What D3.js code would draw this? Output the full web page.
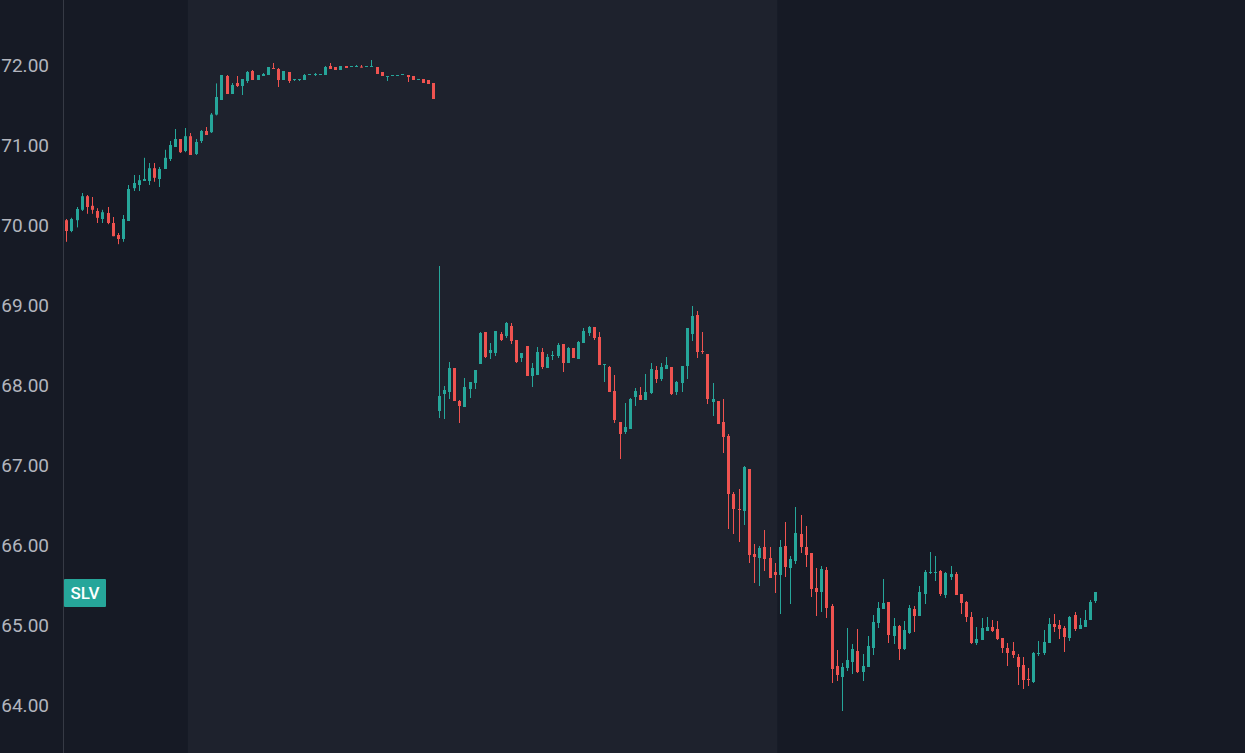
<!DOCTYPE html>
<html>
<head>
<meta charset="utf-8">
<script src="https://cdn.jsdelivr.net/npm/d3@7"></script>
<style>
  html, body { margin: 0; padding: 0; background: #161a25; }
  svg { display: block; }
</style>
</head>
<body>
<svg id="chart" width="1245" height="753"></svg>
<script>
// ---- Data (SLV, intraday candles) ----
const opens = [
70.06,69.925,70.06,70.19,70.36,70.24,70.175,70.075,70.15,70.025,69.875,69.825,70.05,70.46,70.50,70.55,70.55,70.71,70.575,70.70,
70.825,70.975,71.075,70.925,71.11,70.8875,71.05,71.175,71.16,71.38,71.5625,71.8625,71.6375,71.775,71.7375,71.80,71.925,71.8125,71.8625,71.875,
71.9625,71.95,71.8125,71.9125,71.8125,71.8125,71.8125,71.875,71.875,71.875,71.875,71.9875,71.975,71.9375,71.9875,71.975,71.975,71.98,71.975,71.975,
71.975,71.9125,71.85,71.8625,71.8625,71.875,71.875,71.8625,71.8125,71.825,71.8125,71.775,67.675,67.8875,67.9125,68.2125,67.80,67.725,67.95,68.025,
68.2625,68.6625,68.40,68.40,68.6375,68.6125,68.7375,68.5625,68.3375,68.4875,68.1125,68.125,68.4125,68.2125,68.3625,68.3625,68.5125,68.275,68.4625,68.325,
68.525,68.65,68.725,68.60,68.25,68.225,67.925,67.5375,67.4125,67.45,67.85,67.875,67.8125,67.90,68.1875,68.075,68.20,68.225,67.9125,68.025,
68.2375,68.6375,68.875,68.425,68.3875,67.7875,67.80,67.5375,67.3625,66.6375,66.45,66.425,66.95,65.8875,65.8375,65.975,65.8375,65.6625,65.625,65.9875,
65.7125,65.80,66.1375,65.975,65.90,65.4625,65.4125,65.6875,65.2375,64.4875,64.35,64.4625,64.5375,64.675,64.4125,64.475,64.7125,65.025,65.20,65.2875,
64.8625,64.9875,64.70,64.90,65.20,65.1125,65.3875,65.65,65.65,65.675,65.375,65.60,65.6375,65.3875,65.2875,65.10,64.775,64.8125,64.925,64.975,
64.95,64.8375,64.7125,64.675,64.60,64.50,64.325,64.2875,64.6375,64.65,64.775,65.0125,65.0,64.9625,64.8375,65.125,64.95,64.975,65.0625,65.30
];
const highs = [
70.075,70.09,70.225,70.40,70.375,70.35,70.21,70.19,70.225,70.10,69.90,70.125,70.50,70.625,70.625,70.84,70.775,70.775,70.725,70.94,
71.05,71.20,71.075,71.2125,71.15,71.075,71.1875,71.225,71.40,71.77,71.875,71.875,71.775,71.8625,71.825,71.925,71.9375,71.875,71.90,71.975,
72.025,71.9625,71.925,71.9125,71.825,71.825,71.8875,71.8875,71.90,71.8875,71.9875,72.025,71.975,71.9875,71.9875,71.9875,72.0,72.0,71.9875,72.0625,
71.975,71.9125,71.8625,71.875,71.875,71.8875,71.875,71.8625,71.825,71.825,71.8125,71.775,69.4875,67.9875,68.2875,68.2125,67.8125,68.0875,68.0375,68.1875,
68.6625,68.6625,68.525,68.675,68.6625,68.7875,68.775,68.5625,68.40,68.4875,68.275,68.475,68.4625,68.3875,68.425,68.525,68.5125,68.475,68.4625,68.55,
68.7125,68.7375,68.725,68.6625,68.2625,68.2375,68.125,67.5375,67.775,67.8375,67.9625,67.975,68.1375,68.275,68.2375,68.275,68.35,68.225,68.05,68.2375,
68.7125,68.9875,68.925,68.6625,68.3875,68.025,67.80,67.825,67.3875,66.6625,66.70,66.9875,66.95,66.0125,65.9875,66.1875,65.975,65.775,66.0625,66.2875,
65.8625,66.475,66.375,66.2375,65.90,65.7125,65.7375,65.725,65.2625,64.6875,64.525,64.9625,64.7625,64.95,64.6375,64.8625,65.125,65.2875,65.575,65.2875,
65.0875,65.0,65.05,65.25,65.2375,65.4875,65.6875,65.9125,65.8625,65.6875,65.6625,65.7375,65.6625,65.3875,65.30,65.1625,64.975,65.0875,65.10,65.0625,
65.05,64.8375,64.775,64.7875,64.6375,64.60,64.4625,64.6625,64.80,64.9375,65.0875,65.1375,65.0625,64.9875,65.1125,65.1625,65.0875,65.1875,65.3125,65.4125
];
const lows = [
69.79,69.91,69.97,70.175,70.14,70.14,70.025,70.025,70.01,69.86,69.76,69.79,70.05,70.425,70.425,70.55,70.50,70.54,70.475,70.70,
70.80,70.975,70.90,70.91,70.875,70.875,71.025,71.125,71.15,71.37,71.5625,71.6375,71.6375,71.725,71.625,71.775,71.8125,71.8125,71.8625,71.875,
71.95,71.725,71.8125,71.775,71.80,71.80,71.8125,71.875,71.8625,71.875,71.875,71.95,71.9375,71.9375,71.9625,71.975,71.975,71.97,71.975,71.975,
71.8875,71.8625,71.80,71.8625,71.8625,71.875,71.7875,71.8125,71.8125,71.775,71.7625,71.575,67.5875,67.575,67.825,67.80,67.525,67.725,67.8375,67.95,
68.2625,68.3375,68.325,68.3625,68.55,68.5875,68.5125,68.275,68.2875,68.1125,67.975,68.125,68.20,68.2125,68.3125,68.3375,68.1625,68.275,68.3375,68.325,
68.525,68.6125,68.5625,68.25,68.0375,67.9125,67.525,67.075,67.3875,67.45,67.7375,67.8125,67.8125,67.8875,68.025,68.05,68.20,67.875,67.875,67.9125,
68.075,68.55,68.3375,68.3875,67.7625,67.6125,67.5125,67.15,66.20,66.1375,66.0375,66.25,65.775,65.525,65.4875,65.675,65.5875,65.40,65.1375,65.60,
65.2625,65.7625,65.90,65.725,65.35,65.1125,65.1625,65.0875,64.275,64.30,63.925,64.425,64.3875,64.40,64.30,64.475,64.625,64.9625,65.20,64.775,
64.7625,64.5625,64.6875,64.8875,64.9125,65.1125,65.2625,65.6375,65.55,65.3625,65.3375,65.5625,65.375,65.1375,65.0375,64.7625,64.75,64.8125,64.925,64.9125,
64.8125,64.65,64.4875,64.5875,64.25,64.20,64.2375,64.275,64.6125,64.625,64.775,64.9125,64.825,64.6625,64.80,64.925,64.95,64.975,65.0625,65.275
];
const closes = [
69.925,70.075,70.20,70.36,70.225,70.19,70.09,70.16,70.025,69.86,69.825,70.075,70.45,70.525,70.56,70.575,70.71,70.59,70.70,70.84,
71.00,71.075,70.91,71.11,70.875,71.0375,71.175,71.125,71.38,71.60,71.875,71.6375,71.75,71.7375,71.825,71.9125,71.8125,71.875,71.8875,71.975,
71.95,71.8125,71.925,71.80,71.825,71.825,71.875,71.8875,71.8875,71.8875,71.975,71.95,71.9375,71.9875,71.9625,71.9875,71.9875,71.97,71.9875,71.9875,
71.8875,71.8625,71.8625,71.875,71.875,71.8875,71.85,71.8125,71.825,71.775,71.7625,71.575,67.8625,67.9375,68.2125,67.80,67.7375,67.975,68.0375,68.1875,
68.65,68.35,68.4375,68.675,68.5625,68.775,68.55,68.2875,68.40,68.1125,68.2125,68.4125,68.225,68.35,68.375,68.50,68.275,68.4625,68.3375,68.5375,
68.675,68.725,68.5875,68.25,68.2625,67.9125,67.5625,67.3875,67.475,67.825,67.925,67.8125,67.9125,68.20,68.075,68.225,68.25,67.8875,68.0375,68.2375,
68.7125,68.8625,68.4125,68.4125,67.825,67.825,67.5125,67.35,66.6375,66.45,66.4375,66.975,65.875,65.85,65.9625,65.825,65.5875,65.625,65.975,65.725,
65.825,66.15,65.975,65.875,65.45,65.4125,65.70,65.2125,64.45,64.375,64.475,64.5625,64.70,64.4125,64.4875,64.7375,65.0375,65.2125,65.275,64.875,
64.9875,64.70,64.9375,65.2125,65.1125,65.4125,65.6625,65.6625,65.6625,65.3875,65.65,65.6375,65.375,65.275,65.10,64.775,64.825,64.9625,64.975,64.925,
64.825,64.7125,64.65,64.625,64.475,64.3125,64.3125,64.65,64.65,64.7875,65.0125,64.975,64.95,64.85,65.10,64.95,65.0,65.0625,65.2875,65.4125
];
// Regular-session band (candle index range, inclusive)
const sessionStart = [24];
const sessionEnd = [137];
const yTicks = [64, 65, 66, 67, 68, 69, 70, 71, 72];
const symbol = ["SLV"];

// ---- Drawing ----
const W = 1245, H = 753;
const svg = d3.select("#chart");
const n = opens.length;
const candles = d3.range(n).map(i => ({ i, o: opens[i], h: highs[i], l: lows[i], c: closes[i] }));

const x = d3.scaleLinear().domain([0, n - 1]).range([66.3, 1095.3]);
const y = d3.scaleLinear().domain([64, 72]).range([705, 65]);
const step = x(1) - x(0);

const colUp = "#26a69a", colDown = "#ef5350";

// backgrounds
svg.append("rect").attr("x", 0).attr("y", 0).attr("width", W).attr("height", H).attr("fill", "#161a25");
svg.append("rect")
  .attr("x", x(sessionStart[0] - 0.5)).attr("y", 0)
  .attr("width", x(sessionEnd[0] + 0.5) - x(sessionStart[0] - 0.5)).attr("height", H)
  .attr("fill", "#1e222d");

// axis line
svg.append("line").attr("x1", 63.5).attr("x2", 63.5).attr("y1", 0).attr("y2", H)
  .attr("stroke", "#363a45").attr("stroke-width", 1);

// y axis labels via d3 axis
const yAxis = d3.axisLeft(y).tickValues(yTicks).tickFormat(d3.format(".2f")).tickSize(0).tickPadding(0);
const gAxis = svg.append("g").attr("transform", "translate(49,0)").call(yAxis);
gAxis.select(".domain").remove();
gAxis.selectAll("text")
  .attr("fill", "#b2b5be")
  .style("font-family", "Roboto, 'Noto Sans', sans-serif")
  .style("font-size", "19px");

// candles
const g = svg.append("g");
const cg = g.selectAll("g.c").data(candles).join("g").attr("class", "c");
cg.append("line")
  .attr("x1", d => Math.round(x(d.i)) + 0.5)
  .attr("x2", d => Math.round(x(d.i)) + 0.5)
  .attr("y1", d => y(d.h))
  .attr("y2", d => y(d.l))
  .attr("stroke", d => d.c >= d.o ? colUp : colDown)
  .attr("stroke-width", 1);
cg.append("rect")
  .attr("x", d => Math.round(x(d.i)) - 1)
  .attr("width", 3)
  .attr("y", d => Math.min(y(d.o), y(d.c)))
  .attr("height", d => Math.max(1, Math.abs(y(d.o) - y(d.c))))
  .attr("fill", d => d.c >= d.o ? colUp : colDown);

// symbol label
const lbl = svg.append("g").attr("transform", "translate(64,579)");
lbl.append("rect").attr("width", 42).attr("height", 28).attr("rx", 1).attr("fill", colUp);
lbl.append("text").attr("x", 21).attr("y", 14).attr("dy", "0.36em")
  .attr("text-anchor", "middle").attr("fill", "#ffffff")
  .style("font-family", "Roboto, 'Noto Sans', sans-serif")
  .style("font-size", "17px").style("font-weight", "500")
  .text(symbol[0]);
</script>
</body>
</html>
